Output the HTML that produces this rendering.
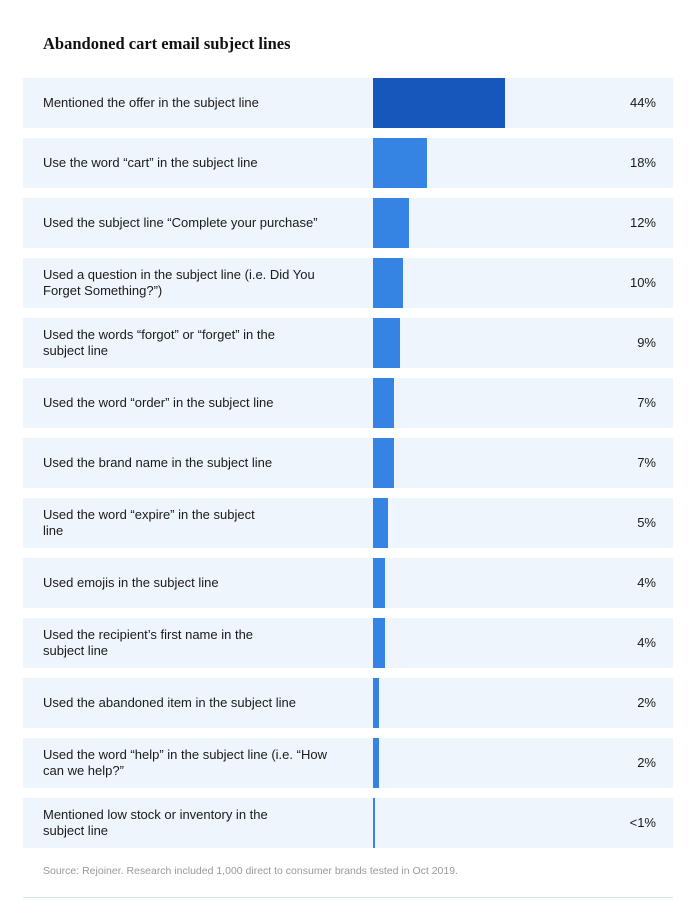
<!DOCTYPE html>
<html><head><style>
body{margin:0;width:694px;height:918px;background:#fff;position:relative;font-family:"Liberation Sans",sans-serif;overflow:hidden}
.t{position:absolute;left:43px;top:34px;font-family:"Liberation Serif",serif;font-weight:bold;font-size:16.5px;color:#111}
.r{position:absolute;left:23px;width:650px;height:50px;background:#eff5fd}
.l{position:absolute;left:20px;top:0;height:50px;width:300px;display:flex;align-items:center;font-size:13px;line-height:16px;color:#1a1a1a}
.b{position:absolute;left:350px;top:0;height:50px;background:#3584e4}
.p{position:absolute;right:17px;top:0;height:50px;line-height:50px;font-size:13px;color:#1a1a1a}
.s{position:absolute;left:43px;top:865px;font-size:10.5px;color:#999}
.h{position:absolute;left:23px;width:650px;top:897px;height:1px;background:#d6e6ee}
</style></head><body>
<div class="t">Abandoned cart email subject lines</div>
<div class="r" style="top:78px"><div class="l">Mentioned the offer in the subject line</div><div class="b" style="width:132px;background:#1557bb"></div><div class="p">44%</div></div>
<div class="r" style="top:138px"><div class="l">Use the word “cart” in the subject line</div><div class="b" style="width:54px"></div><div class="p">18%</div></div>
<div class="r" style="top:198px"><div class="l">Used the subject line “Complete your purchase”</div><div class="b" style="width:36px"></div><div class="p">12%</div></div>
<div class="r" style="top:258px"><div class="l" style="width:310px">Used a question in the subject line (i.e. Did You Forget Something?”)</div><div class="b" style="width:30px"></div><div class="p">10%</div></div>
<div class="r" style="top:318px"><div class="l" style="width:255px">Used the words “forgot” or “forget” in the subject line</div><div class="b" style="width:27px"></div><div class="p">9%</div></div>
<div class="r" style="top:378px"><div class="l">Used the word “order” in the subject line</div><div class="b" style="width:21px"></div><div class="p">7%</div></div>
<div class="r" style="top:438px"><div class="l">Used the brand name in the subject line</div><div class="b" style="width:21px"></div><div class="p">7%</div></div>
<div class="r" style="top:498px"><div class="l" style="width:235px">Used the word “expire” in the subject line</div><div class="b" style="width:15px"></div><div class="p">5%</div></div>
<div class="r" style="top:558px"><div class="l">Used emojis in the subject line</div><div class="b" style="width:12px"></div><div class="p">4%</div></div>
<div class="r" style="top:618px"><div class="l" style="width:235px">Used the recipient’s first name in the subject line</div><div class="b" style="width:12px"></div><div class="p">4%</div></div>
<div class="r" style="top:678px"><div class="l">Used the abandoned item in the subject line</div><div class="b" style="width:6px"></div><div class="p">2%</div></div>
<div class="r" style="top:738px"><div class="l">Used the word “help” in the subject line (i.e. “How can we help?”</div><div class="b" style="width:6px"></div><div class="p">2%</div></div>
<div class="r" style="top:798px"><div class="l" style="width:255px">Mentioned low stock or inventory in the subject line</div><div class="b" style="width:2px"></div><div class="p">&lt;1%</div></div>
<div class="s">Source: Rejoiner. Research included 1,000 direct to consumer brands tested in Oct 2019.</div>
<div class="h"></div>
</body></html>
